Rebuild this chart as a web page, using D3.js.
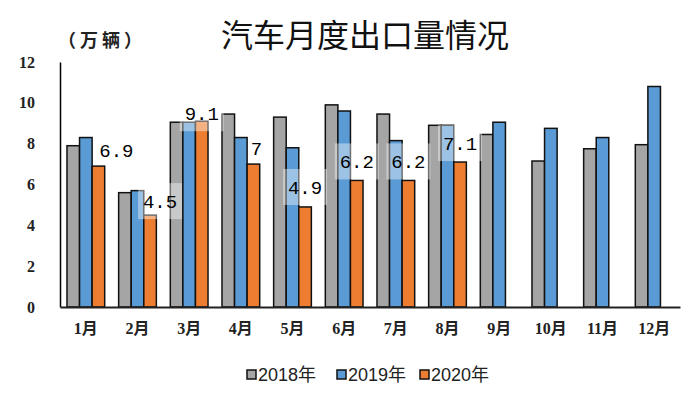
<!DOCTYPE html>
<html>
<head>
<meta charset="utf-8">
<script src="https://cdn.jsdelivr.net/npm/d3@7"></script>
<style>
  body { margin: 0; background: #fff; }
  svg { display: block; }
</style>
</head>
<body>
<div id="chart"></div>
<script>
// data
var months = ["1月", "2月", "3月", "4月", "5月", "6月", "7月", "8月", "9月", "10月", "11月", "12月"];
var years = ["2018年", "2019年", "2020年"];
var v2018 = [7.9, 5.6, 9.05, 9.45, 9.3, 9.9, 9.45, 8.9, 8.45, 7.15, 7.75, 7.95];
var v2019 = [8.3, 5.7, 9.05, 8.3, 7.8, 9.6, 8.15, 8.9, 9.05, 8.75, 8.3, 10.8];
var v2020 = [6.9, 4.5, 9.1, 7, 4.9, 6.2, 6.2, 7.1, null, null, null, null];
var yTicks = [0, 2, 4, 6, 8, 10, 12];

var colors = ["#A5A5A5", "#5B9BD5", "#ED7D31"];

// label nudges for the 2020 data labels (dx, dy from top centre of bar), and whether a box shows
var labelNudge = [[18, -16], [10, -14], [0, -8], [3, -16], [0, -20], [0, -19], [0, -19], [0, -19]];
var labelBox = [false, true, true, false, true, true, true, true];

var width = 700, height = 393;
var svg = d3.select("#chart").append("svg")
  .attr("width", width)
  .attr("height", height);

var plotLeft = 60, plotRight = 680, plotTop = 62, plotBottom = 307;

var x0 = d3.scaleBand()
  .domain(months)
  .range([plotLeft, plotRight])
  .paddingInner(0.27)
  .paddingOuter(0.135);

var x1 = d3.scaleBand()
  .domain(years)
  .range([0, x0.bandwidth()]);

var y = d3.scaleLinear()
  .domain([0, 12])
  .range([plotBottom, plotTop]);

// title
svg.append("text")
  .attr("x", 365)
  .attr("y", 47)
  .attr("text-anchor", "middle")
  .style("font-family", "'Noto Sans CJK SC'")
  .style("font-size", "32px")
  .style("fill", "#111")
  .text("汽车月度出口量情况");

svg.append("text")
  .attr("x", 102)
  .attr("y", 47)
  .attr("text-anchor", "middle")
  .style("font-family", "'Noto Sans CJK SC'")
  .style("font-weight", "bold")
  .style("font-size", "18px")
  .style("letter-spacing", "4px")
  .style("fill", "#222")
  .text("（万辆）");

// Y axis
var yAxis = svg.append("g")
  .attr("transform", "translate(" + plotLeft + ",0)")
  .call(d3.axisLeft(y).tickValues(yTicks).tickSize(0).tickSizeOuter(0).tickPadding(25));
yAxis.select(".domain").attr("stroke", "#000").attr("stroke-width", 1.5);
yAxis.selectAll("text")
  .style("font-family", "'Liberation Serif', serif")
  .style("font-weight", "bold")
  .style("font-size", "16px")
  .style("fill", "#222");

// bars
var series = [v2018, v2019, v2020];
series.forEach(function(vals, si) {
  svg.append("g").selectAll("rect")
    .data(months.map(function(m, i) { return {m: m, v: vals[i]}; }).filter(function(d) { return d.v != null; }))
    .enter()
    .append("rect")
      .attr("x", function(d) { return x0(d.m) + x1(years[si]); })
      .attr("y", function(d) { return y(d.v); })
      .attr("width", x1.bandwidth())
      .attr("height", function(d) { return y(0) - y(d.v); })
      .attr("fill", colors[si])
      .attr("stroke", "#111")
      .attr("stroke-width", 1.5);
});

// X axis
var xAxis = svg.append("g")
  .attr("transform", "translate(0," + y(0) + ")")
  .call(d3.axisBottom(x0).tickSize(0).tickSizeOuter(0).tickPadding(16));
xAxis.select(".domain").attr("stroke", "#222").attr("stroke-width", 2);
xAxis.selectAll("text")
  .style("font-family", "'Liberation Serif', 'Noto Sans CJK SC', serif")
  .style("font-weight", "bold")
  .style("font-size", "16px")
  .style("fill", "#222");

// 2020 data labels with light boxes
var labels = svg.append("g");
v2020.forEach(function(v, i) {
  if (v == null) return;
  var cx = x0(months[i]) + x1(years[2]) + x1.bandwidth() / 2 + labelNudge[i][0];
  var cy = y(v) + labelNudge[i][1];
  if (labelBox[i]) {
    labels.append("rect")
      .attr("x", cx - 22)
      .attr("y", cy - 18)
      .attr("width", 44)
      .attr("height", 36)
      .attr("fill", "#fff")
      .attr("fill-opacity", 0.4);
  }
  labels.append("text")
    .attr("x", cx)
    .attr("y", cy)
    .attr("dy", "0.35em")
    .attr("text-anchor", "middle")
    .style("font-family", "'Liberation Mono', monospace")
    .style("font-size", "19px")
    .style("fill", "#000")
    .text(String(v));
});

// legend
var legend = svg.append("g");
var legendX = [247, 337, 420];
years.forEach(function(yr, i) {
  legend.append("rect")
    .attr("x", legendX[i])
    .attr("y", 370)
    .attr("width", 9)
    .attr("height", 9)
    .attr("fill", colors[i])
    .attr("stroke", "#111")
    .attr("stroke-width", 1.5);
  legend.append("text")
    .attr("x", legendX[i] + 11)
    .attr("y", 375)
    .attr("dy", "0.35em")
    .style("font-family", "'Liberation Sans', 'Noto Sans CJK SC', sans-serif")
    .style("font-size", "18px")
    .style("fill", "#222")
    .text(yr);
});
</script>
</body>
</html>
